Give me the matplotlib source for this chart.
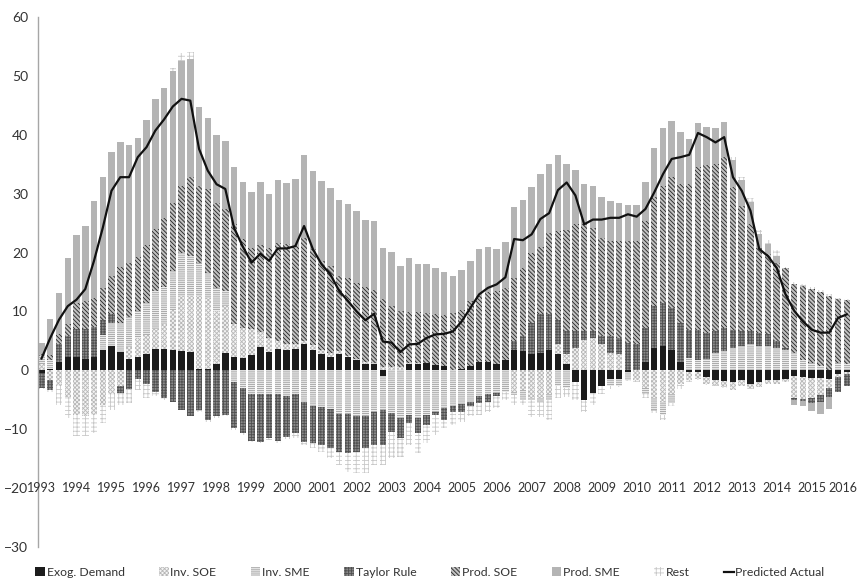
import numpy as np
import matplotlib
matplotlib.use("Agg")
import matplotlib.pyplot as plt
from matplotlib.patches import Patch
from matplotlib.lines import Line2D

plt.rcParams["font.family"] = ["Lato", "DejaVu Sans"]
plt.rcParams["hatch.linewidth"] = 0.6

# quarterly data, 1993Q1 .. 2016Q1
year_labels = [str(y) for y in range(1993, 2017)]

exog_demand = [
    -0.4, 0.2, 1.4, 2.2, 2.3, 2.0, 2.2, 3.5,
    4.1, 3.1, 2.0, 2.2, 2.8, 3.6, 3.6, 3.5,
    3.2, 3.1, 0.3, 0.2, 1.1, 3.0, 2.3, 2.1,
    2.6, 4.0, 3.1, 3.6, 3.5, 3.7, 4.5, 3.5,
    2.8, 2.2, 2.8, 2.2, 1.7, 1.1, 1.0, -0.9,
    0.1, 0.0, 1.1, 1.1, 1.3, 0.9, 0.7, 0.1,
    0.3, 0.8, 1.5, 1.4, 1.0, 1.7, 3.5, 3.2,
    2.7, 3.0, 3.4, 2.8, 1.0, -2.0, -5.0, -3.8,
    -2.6, -1.4, -1.4, -0.3, 0.1, 1.4, 3.8, 4.1,
    3.4, 1.4, -0.2, -0.3, -1.2, -1.6, -1.8, -2.0,
    -1.6, -2.3, -2.0, -1.6, -1.6, -1.5, -1.0, -1.2,
    -1.3, -1.3, -1.5, -0.6, -0.2]

inv_soe = [
    1.0, -1.7, -2.7, -4.5, -7.6, -7.8, -7.6, -5.9,
    -4.1, -2.6, 2.0, 3.3, 3.2, 3.4, 4.2, 6.8,
    9.4, 9.5, 12.3, 12.1, 8.9, 7.9, 5.5, 5.1,
    4.4, 2.5, 2.4, 1.4, 1.0, 0.8, 0.5, 0.8,
    0.7, 0.8, 0.4, 0.3, 0.3, 0.3, 0.2, 0.5,
    0.5, 0.5, 0.2, 0.2, 0.0, 0.0, 0.0, 0.0,
    0.0, 0.0, 0.0, 0.0, 0.0, 0.0, -3.7, -3.4,
    -4.7, -4.7, -4.1, 1.7, 1.7, 3.8, 5.2, 5.5,
    4.4, 3.0, 2.7, 0.0, -1.7, -3.0, -4.7, -5.3,
    -4.0, -2.4, -1.4, -1.1, -1.1, -0.9, -1.0, -1.3,
    -1.1, -0.8, -0.9, -0.7, -0.8, -0.5, -3.7, -3.7,
    -3.4, -2.9, -1.5, -0.5, -0.4]

inv_sme = [
    1.5, 1.6, 0.0, 0.0, 0.0, 0.0, 0.0, 2.5,
    3.9, 4.9, 5.0, 4.5, 5.5, 6.5, 6.4, 6.6,
    7.4, 6.9, 5.7, 4.2, 4.0, 2.6, -2.0, -3.0,
    -4.0, -4.0, -4.0, -4.0, -4.4, -4.0, -5.4, -6.0,
    -6.3, -6.5, -7.4, -7.4, -7.7, -7.7, -7.0, -5.8,
    -7.3, -8.1, -7.6, -8.1, -7.6, -7.0, -6.4, -6.1,
    -5.8, -5.3, -4.4, -4.1, -3.8, -3.6, -0.5, -1.7,
    -0.3, -0.6, -0.9, -2.7, -3.0, 0.0, 0.0, 0.0,
    0.0, -1.3, -1.3, -1.3, 0.0, -0.9, -2.0, -2.2,
    -1.6, 0.0, 2.1, 1.8, 2.0, 3.0, 3.2, 3.8,
    4.1, 4.4, 4.1, 4.1, 3.8, 3.5, 3.0, 1.8,
    1.3, 0.7, 0.1, 1.3, 1.1]

taylor_rule = [
    -2.6, -1.7, 3.0, 3.6, 4.7, 5.0, 5.1, 2.5,
    1.5, -1.2, -3.2, -1.5, -2.4, -3.6, -4.7, -5.3,
    -6.7, -7.8, -6.7, -8.4, -7.8, -7.6, -7.8, -7.7,
    -8.0, -8.1, -7.5, -8.0, -6.9, -6.7, -6.7, -6.4,
    -6.4, -6.7, -6.4, -6.7, -6.1, -5.5, -5.7, -6.0,
    -3.1, -3.4, -1.4, -2.6, -1.7, -0.6, -2.0, -0.9,
    -1.2, -0.8, -1.2, -1.2, -0.6, 0.0, 1.4, 2.6,
    5.3, 6.5, 6.2, 4.0, 3.9, 2.8, 1.4, 1.1,
    1.4, 2.8, 2.8, 4.7, 4.3, 5.8, 7.2, 7.4,
    7.2, 6.7, 4.8, 5.1, 4.4, 3.6, 4.0, 3.1,
    2.5, 2.2, 2.3, 2.0, 1.1, 0.3, -0.3, -0.3,
    -0.8, -1.1, -1.5, -2.5, -2.1]

prod_soe = [
    0.3, 0.8, 1.7, 2.0, 4.5, 4.8, 5.0, 5.4,
    6.5, 9.6, 9.3, 9.3, 9.8, 10.5, 11.7, 11.5,
    11.3, 13.3, 13.0, 14.3, 14.5, 13.9, 17.0, 15.1,
    13.8, 14.7, 15.3, 16.6, 16.9, 16.8, 17.5, 16.3,
    15.1, 14.7, 12.8, 13.1, 12.9, 12.7, 12.5, 11.6,
    10.4, 9.6, 8.6, 8.6, 8.4, 8.6, 8.7, 9.6,
    9.9, 10.9, 11.1, 11.9, 12.5, 12.3, 10.8, 11.6,
    12.0, 11.4, 13.8, 15.2, 17.2, 18.3, 18.2, 17.6,
    16.7, 16.1, 16.4, 17.2, 17.5, 18.2, 18.4, 19.8,
    22.3, 23.6, 24.7, 27.6, 28.5, 28.4, 29.1, 24.2,
    21.3, 18.2, 14.4, 13.6, 13.4, 13.5, 11.7, 12.6,
    12.5, 12.6, 12.6, 10.8, 10.9]

prod_sme = [
    1.9, 6.2, 7.0, 11.3, 11.5, 12.7, 16.5, 19.0,
    21.1, 21.2, 20.0, 20.2, 21.2, 22.0, 22.1, 22.4,
    21.3, 20.1, 13.4, 12.1, 11.5, 11.5, 9.8, 9.6,
    9.5, 10.7, 9.2, 10.7, 10.4, 11.2, 14.1, 13.3,
    13.5, 13.3, 12.9, 12.7, 12.2, 11.5, 11.7, 8.7,
    9.1, 7.7, 9.1, 8.1, 8.4, 7.9, 7.3, 6.4,
    6.9, 6.9, 8.0, 7.7, 7.1, 7.8, 12.1, 11.6,
    11.1, 12.4, 11.7, 12.8, 11.3, 9.2, 6.9, 7.1,
    7.0, 6.9, 6.5, 6.1, 6.2, 6.6, 8.4, 9.8,
    9.5, 8.8, 7.7, 7.5, 6.5, 6.1, 5.9, 4.6,
    4.5, 3.8, 2.3, 1.7, 1.1, 0.0, -0.9, -0.9,
    -1.4, -2.1, -2.1, 0.0, 0.0]

rest = [
    -0.2, -0.3, -3.2, -3.6, -3.6, -3.4, -3.1, -3.1,
    -2.6, -2.1, -2.4, -1.8, -2.3, -0.8, -0.3, 0.5,
    1.3, 1.2, -0.4, -0.3, -0.3, -0.2, -0.3, -0.3,
    -0.2, -0.3, -0.3, -0.3, -0.3, -0.8, -0.6, -0.8,
    -1.1, -1.7, -2.3, -3.1, -3.7, -4.3, -3.4, -3.4,
    -4.5, -3.2, -3.7, -3.3, -3.1, -3.4, -1.4, -2.3,
    -1.7, -1.7, -1.9, -1.7, -2.0, -1.4, -1.7, -0.8,
    -3.0, -2.7, -3.5, -2.0, -1.5, -3.0, -2.1, -2.1,
    -1.5, -0.4, -0.2, -0.2, -0.3, -0.8, -0.6, -0.9,
    -0.4, -0.8, -0.3, -0.2, -0.2, -0.2, -0.2, 0.5,
    0.5, 0.6, 0.8, 0.8, 1.0, 0.3, 0.3, 0.3,
    0.3, 0.3, 0.2, 0.2, 0.1]

predicted_actual = [
    2.0, 5.5, 8.6, 10.9, 12.0, 13.8, 18.6, 24.2,
    30.5, 32.8, 32.8, 36.2, 37.9, 40.7, 42.6, 44.8,
    46.1, 45.8, 37.6, 33.9, 31.6, 30.8, 24.2, 21.0,
    18.3, 19.8, 18.6, 20.7, 20.7, 21.1, 24.5, 20.6,
    18.0, 16.3, 13.5, 11.8, 10.0, 8.5, 9.6, 4.9,
    4.7, 3.1, 4.4, 4.5, 5.5, 6.1, 6.2, 6.6,
    8.3, 10.6, 12.9, 14.0, 14.6, 15.8, 22.3, 22.1,
    23.1, 25.7, 26.7, 30.6, 31.9, 29.7, 24.8, 25.6,
    25.6, 25.9, 25.9, 26.5, 26.1, 27.4, 30.2, 33.3,
    35.9, 36.2, 36.6, 40.3, 39.6, 38.7, 39.6, 32.8,
    30.5, 27.1, 20.6, 19.4, 17.4, 12.9, 10.1, 8.3,
    6.9, 6.4, 6.4, 8.9, 9.5]

# name, values, face colour, hatch, hatch colour
series = [
    ("Exog. Demand", exog_demand, "#1c1c1c", None, "#1c1c1c"),
    ("Inv. SOE", inv_soe, "#f4f4f4", "xxxxxxxx", "#b8b8b8"),
    ("Inv. SME", inv_sme, "#ececec", "--------", "#a0a0a0"),
    ("Taylor Rule", taylor_rule, "#8a8a8a", "++++++", "#505050"),
    ("Prod. SOE", prod_soe, "#c0c0c0", "\\\\\\\\\\\\\\\\", "#222222"),
    ("Prod. SME", prod_sme, "#b4b4b4", None, "#b4b4b4"),
    ("Rest", rest, "#ffffff", "++++", "#c8c8c8"),
]

n = len(predicted_actual)
x = np.arange(n)

fig = plt.figure(figsize=(8.59, 5.82), dpi=100)
ax = fig.add_axes([38 / 859, 35 / 582, 814 / 859, 530 / 582])

pos_base = np.zeros(n)
neg_base = np.zeros(n)
handles = []
for name, vals, face, hatch, hc in series:
    v = np.array(vals, dtype=float)
    bottom = np.where(v >= 0, pos_base, neg_base)
    ax.bar(x, v, bottom=bottom, width=0.74, color=face, edgecolor=hc,
           hatch=hatch, linewidth=0, zorder=2)
    pos_base += np.clip(v, 0, None)
    neg_base += np.clip(v, None, 0)
    handles.append(Patch(facecolor=face, edgecolor=hc, hatch=hatch,
                         linewidth=0, label=name))

ax.plot(x, predicted_actual, color="#111111", linewidth=1.6, zorder=3)
handles.append(Line2D([], [], color="#111111", linewidth=1.6,
                      label="Predicted Actual"))

ax.set_xlim(-0.4, 92.6)
ax.set_ylim(-30, 60)
ax.set_yticks(range(-30, 61, 10))
ax.tick_params(axis="y", length=0, pad=7, labelsize=10, labelcolor="#333333")
ax.set_xticks([])
for side in ("top", "right", "bottom"):
    ax.spines[side].set_visible(False)
ax.spines["left"].set_color("#a6a6a6")
ax.spines["left"].set_linewidth(1.0)

# year labels sit on the -20 line; the last one is nudged in from the edge
for k, lab in enumerate(year_labels):
    xpos = 4 * k if k < len(year_labels) - 1 else 4 * k - 0.4
    ax.text(xpos, -20, lab, ha="center", va="center", fontsize=9,
            color="#333333", zorder=4)

fig.legend(handles=handles, loc="lower left", bbox_to_anchor=(0.028, -0.012),
           ncol=8, frameon=False, fontsize=8.8, handlelength=0.8,
           handleheight=0.8, handletextpad=0.15, columnspacing=2.8,
           labelcolor="#333333")

fig.savefig("out.png", dpi=100)
